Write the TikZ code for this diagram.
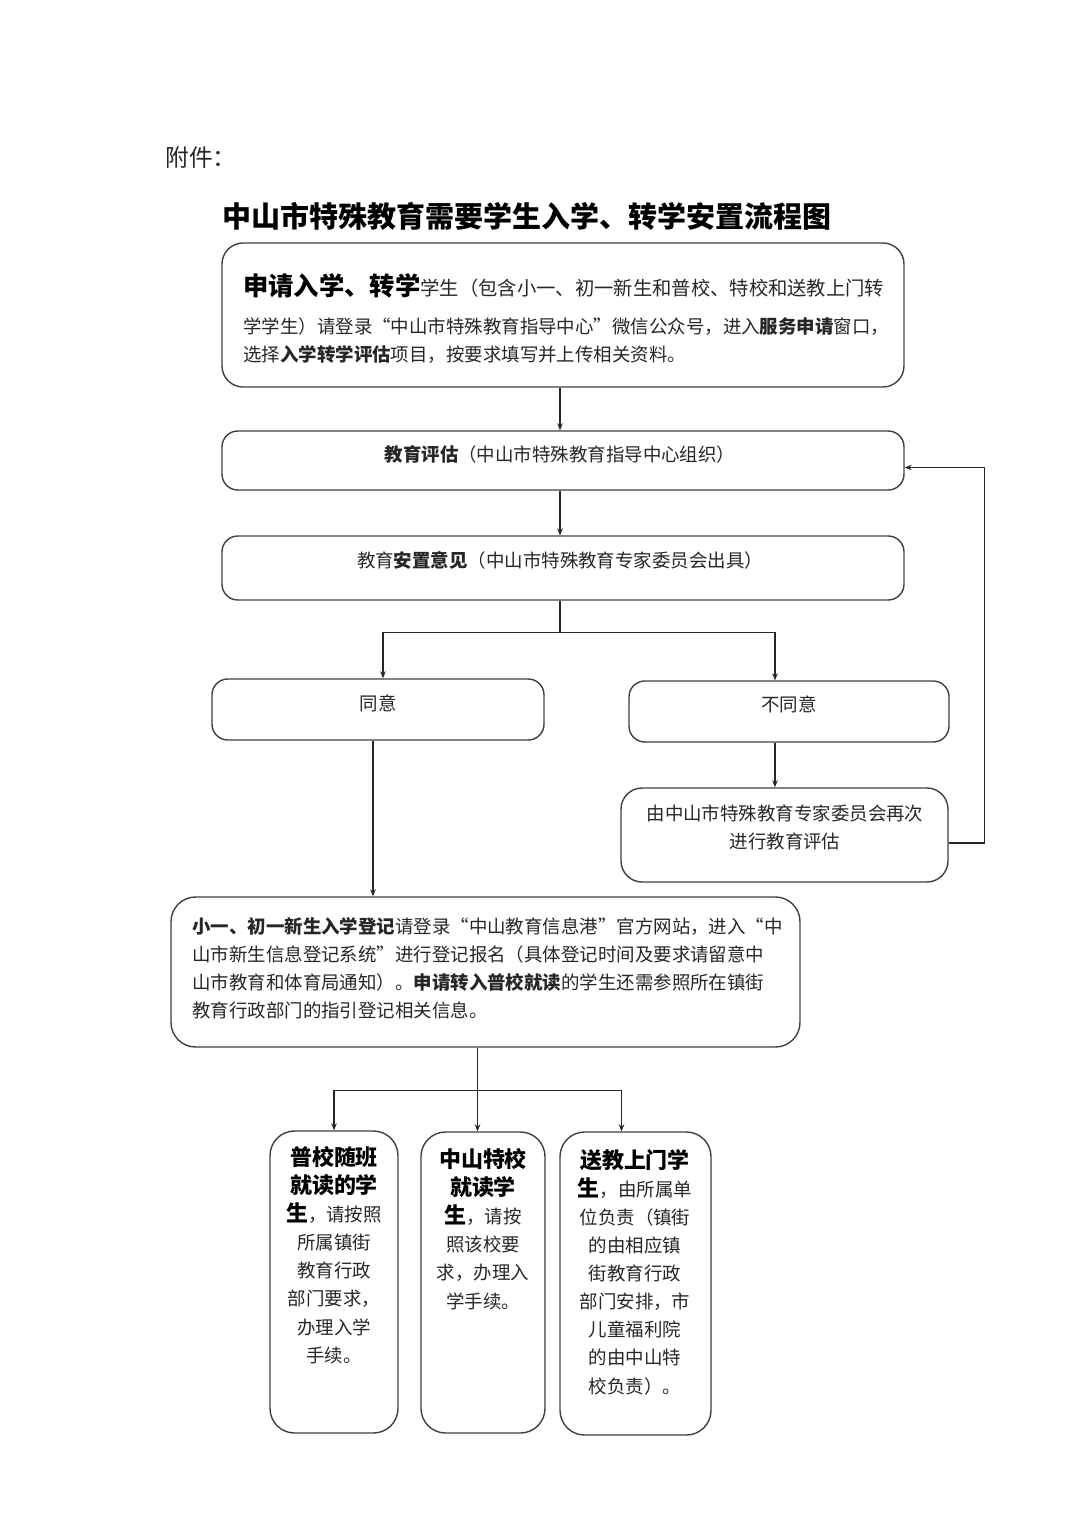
\documentclass[tikz,border=0pt]{standalone}
\usepackage{fontspec}
\setmainfont{Noto Sans CJK SC}
\usetikzlibrary{arrows.meta,calc,fit}
\tikzset{
  box/.style={draw=black!75, line width=0.8pt, rounded corners=9pt, inner sep=0pt},
  txt/.style={inner sep=0pt, text=black!85, font=\fontsize{10.5}{16}\selectfont},
  arr/.style={draw=black!85, line width=0.6pt, -{Stealth[length=4pt,width=3.2pt]}},
  link/.style={draw=black!85, line width=0.6pt},
}
\newcommand{\hd}[1]{{\fontsize{12.5}{16}\selectfont\bfseries\color{black}#1}}

\begin{document}
\begin{tikzpicture}[x=0.02cm,y=-0.02cm]
\useasboundingbox (0,0) rectangle (1080,1527);
\node[txt, anchor=west, font=\fontsize{13.5}{16}\selectfont] (annex) at (165,158) {附件：};
\node[txt, anchor=west, text=black, font=\fontsize{16.5}{20}\selectfont\bfseries] (title) at (222,216) {中山市特殊教育需要学生入学、转学安置流程图};

\node[box, rounded corners=12pt, fit={(222,243) (904,387)}] (apply) {};
\node[txt, anchor=west, font=\fontsize{11}{16}\selectfont] (applyA) at (243,286) {{\fontsize{14.4}{16}\selectfont\bfseries\color{black}申请入学、转学}学生（包含小一、初一新生和普校、特校和送教上门转};
\node[txt, anchor=west] (applyB) at (243,327) {学学生）请登录“中山市特殊教育指导中心”微信公众号，进入\textbf{服务申请}窗口，};
\node[txt, anchor=west] (applyC) at (243,355) {选择\textbf{入学转学评估}项目，按要求填写并上传相关资料。};

\node[box, fit={(222,431) (904,490)}] (assess) {};
\node[txt] (assessT) at (560,454) {\textbf{教育评估}（中山市特殊教育指导中心组织）};
\node[box, fit={(222,536) (904,600)}] (opinion) {};
\node[txt] (opinionT) at (560,560) {教育\textbf{安置意见}（中山市特殊教育专家委员会出具）};
\node[box, fit={(212,679) (544,740)}] (agree) {};
\node[txt] (agreeT) at (378,703) {同意};
\node[box, fit={(629,681) (949,742)}] (disagree) {};
\node[txt] (disagreeT) at (789,704) {不同意};
\node[box, rounded corners=12pt, fit={(621,788) (948,882)}] (recheck) {};
\node[txt, align=center] (recheckT) at (785,827) {由中山市特殊教育专家委员会再次\\进行教育评估};

\node[box, rounded corners=14pt, fit={(171,897) (800,1047)}] (enrol) {};
\node[txt, align=left, anchor=west] (enrolT) at (192,968) {\textbf{小一、初一新生入学登记}请登录“中山教育信息港”官方网站，进入“中\\
山市新生信息登记系统”进行登记报名（具体登记时间及要求请留意中\\
山市教育和体育局通知）。\textbf{申请转入普校就读}的学生还需参照所在镇街\\
教育行政部门的指引登记相关信息。};

\node[box, rounded corners=14pt, fit={(270,1131) (398,1433)}] (regular) {};
\node[txt, align=center] (regularT) at (334,1255) {\hd{普校随班}\\\hd{就读的学}\\\hd{生}，请按照\\所属镇街\\教育行政\\部门要求，\\办理入学\\手续。};
\node[box, rounded corners=14pt, fit={(421,1132) (545,1433)}] (special) {};
\node[txt, align=center] (specialT) at (483,1229) {\hd{中山特校}\\\hd{就读学}\\\hd{生}，请按\\照该校要\\求，办理入\\学手续。};
\node[box, rounded corners=14pt, fit={(560,1132) (711,1435)}] (home) {};
\node[txt, align=center] (homeT) at (635,1272) {\hd{送教上门学}\\\hd{生}，由所属单\\位负责（镇街\\的由相应镇\\街教育行政\\部门安排，市\\儿童福利院\\的由中山特\\校负责）。};

\coordinate (mx) at ($(apply.south)+(-3,0)$);
\draw[arr] (mx) -- (mx |- assess.north);
\draw[arr] (mx |- assess.south) -- (mx |- opinion.north);
\draw[link] (mx |- opinion.south) -- ++(0,32) coordinate (fork);
\draw[arr] (fork) -| ($(agree.north)+(5,0)$);
\draw[arr] (fork) -| ($(disagree.north)+(-14,0)$);
\coordinate (nx) at ($(disagree.south)+(-14,0)$);
\draw[arr] (nx) -- (nx |- recheck.north);
\draw[arr] ($(recheck.east)+(0,8)$) -- ++(36,0) |- ($(assess.east)+(0,7)$);
\coordinate (ax) at ($(agree.south)+(-5,0)$);
\draw[arr] (ax) -- (ax |- enrol.north);
\coordinate (ex) at ($(enrol.south)+(-8,0)$);
\draw[link] (ex) -- ++(0,43) coordinate (fork2);
\draw[arr] (fork2) -| (regular.north);
\draw[arr] (fork2) -- (fork2 |- special.north);
\draw[arr] (fork2) -| ($(home.north)+(-14,0)$);
\end{tikzpicture}
\end{document}
